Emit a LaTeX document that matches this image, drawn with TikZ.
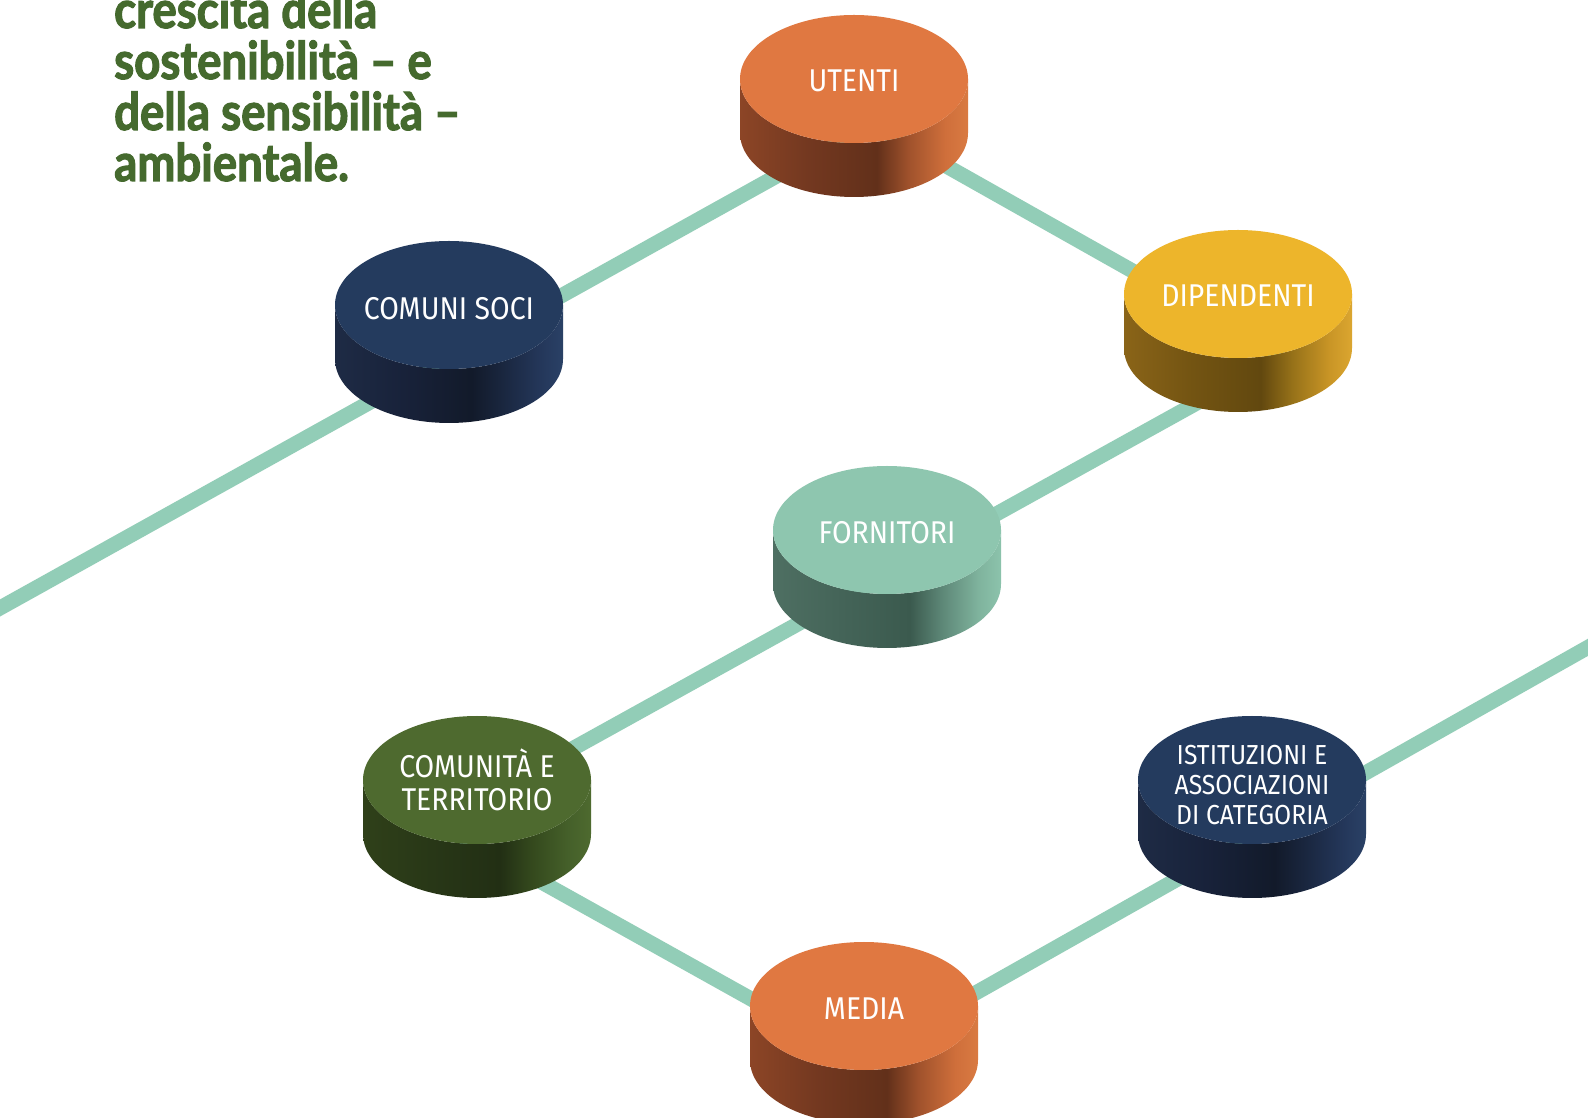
\documentclass[tikz,border=0pt]{standalone}
\usepackage{fontspec}
\newfontfamily\labfont{Fira Sans}[FakeStretch=0.9]
\newfontfamily\titlefont{Lato}[FakeStretch=0.875,FakeBold=2.2]
\definecolor{linec}{HTML}{92CDB7}
\definecolor{titlec}{HTML}{456A2E}
% tops
\definecolor{orangetop}{HTML}{E07841}
\definecolor{navytop}{HTML}{243B5E}
\definecolor{yellowtop}{HTML}{EDB52B}
\definecolor{minttop}{HTML}{8EC6AF}
\definecolor{greentop}{HTML}{4E6A2F}
% sides
\definecolor{or0}{HTML}{8C4526}\definecolor{or1}{HTML}{733820}\definecolor{or2}{HTML}{62301A}
\definecolor{or3}{HTML}{A0522C}\definecolor{or4}{HTML}{CF6F3B}\definecolor{or5}{HTML}{D97A42}
\definecolor{nv0}{HTML}{1E2B45}\definecolor{nv1}{HTML}{18223A}\definecolor{nv2}{HTML}{121A2A}
\definecolor{nv3}{HTML}{1A2740}\definecolor{nv4}{HTML}{24375A}\definecolor{nv5}{HTML}{2A4166}
\definecolor{ye0}{HTML}{8A6418}\definecolor{ye1}{HTML}{735412}\definecolor{ye2}{HTML}{62480F}
\definecolor{ye3}{HTML}{977219}\definecolor{ye4}{HTML}{C99526}\definecolor{ye5}{HTML}{DBA630}
\definecolor{mi0}{HTML}{4E6F62}\definecolor{mi1}{HTML}{446458}\definecolor{mi2}{HTML}{3B5A4E}
\definecolor{mi3}{HTML}{5D8777}\definecolor{mi4}{HTML}{7FB39D}\definecolor{mi5}{HTML}{8CC3AC}
\definecolor{gr0}{HTML}{2F4019}\definecolor{gr1}{HTML}{283717}\definecolor{gr2}{HTML}{222F14}
\definecolor{gr3}{HTML}{34491D}\definecolor{gr4}{HTML}{45602A}\definecolor{gr5}{HTML}{4E6A2F}
\pgfdeclarehorizontalshading{sideorange}{100bp}{color(0bp)=(or0); color(25bp)=(or0); color(40bp)=(or1); color(55bp)=(or2); color(62bp)=(or3); color(70bp)=(or4); color(75bp)=(or5); color(100bp)=(or5)}
\pgfdeclarehorizontalshading{sidenavy}{100bp}{color(0bp)=(nv0); color(25bp)=(nv0); color(40bp)=(nv1); color(55bp)=(nv2); color(62bp)=(nv3); color(70bp)=(nv4); color(75bp)=(nv5); color(100bp)=(nv5)}
\pgfdeclarehorizontalshading{sideyellow}{100bp}{color(0bp)=(ye0); color(25bp)=(ye0); color(40bp)=(ye1); color(55bp)=(ye2); color(62bp)=(ye3); color(70bp)=(ye4); color(75bp)=(ye5); color(100bp)=(ye5)}
\pgfdeclarehorizontalshading{sidemint}{100bp}{color(0bp)=(mi0); color(25bp)=(mi0); color(40bp)=(mi1); color(55bp)=(mi2); color(62bp)=(mi3); color(70bp)=(mi4); color(75bp)=(mi5); color(100bp)=(mi5)}
\pgfdeclarehorizontalshading{sidegreen}{100bp}{color(0bp)=(gr0); color(25bp)=(gr0); color(40bp)=(gr1); color(55bp)=(gr2); color(62bp)=(gr3); color(70bp)=(gr4); color(75bp)=(gr5); color(100bp)=(gr5)}
\newcommand{\drawdisc}[4]{% cx, Yc (top ellipse centre), top colour, side shading
  \shade[shading=#4] (#1-114,#2) -- (#1-114,#2-54)
     arc[start angle=180,end angle=360,x radius=114,y radius=64]
     -- (#1+114,#2)
     arc[start angle=0,end angle=-180,x radius=114,y radius=64] -- cycle;
  \fill[#3] (#1,#2) ellipse [x radius=114,y radius=64];
}
\begin{document}
\begin{tikzpicture}[x=1pt,y=1pt,
  lab/.style={text=white,font=\labfont\fontsize{31.5}{32.5}\selectfont,align=center,inner sep=0pt},
  labsmall/.style={lab,font=\labfont\fontsize{27.5}{30}\selectfont},
  ttl/.style={text=titlec,font=\titlefont\bfseries\fontsize{52}{51}\selectfont,anchor=base west,inner sep=0pt},
  link/.style={draw=linec,line width=15pt,line join=round}]
\useasboundingbox (0,0) rectangle (1588,1117);
\clip (0,0) rectangle (1588,1117);
\fill[white] (0,0) rectangle (1588,1117);
% title
\node[ttl] (t1) at (114,1089) {crescita della};
\node[ttl] (t2) at (114,1038) {sostenibilità – e};
\node[ttl] (t3) at (114,987) {della sensibilità –};
\node[ttl] (t4) at (114,936) {ambientale.};
% junctions of the connector lines (hidden behind the discs)
\coordinate (ein) at (-20,497.9);
\coordinate (j1) at (871,993.4);
\coordinate (j2) at (1282.5,761.5);
\coordinate (j3) at (437,293.2);
\coordinate (j4) at (858.7,58);
\coordinate (eout) at (1610,482.1);
\draw[link] (ein) -- (j1);
\draw[link] (j1) -- (j2);
\draw[link] (j2) -- (j3);
\draw[link] (j3) -- (j4);
\draw[link] (j4) -- (eout);
% discs
\drawdisc{854}{1038}{orangetop}{sideorange}
\drawdisc{449}{812}{navytop}{sidenavy}
\drawdisc{1238}{823}{yellowtop}{sideyellow}
\drawdisc{887}{587}{minttop}{sidemint}
\drawdisc{477}{337}{greentop}{sidegreen}
\drawdisc{1252}{337}{navytop}{sidenavy}
\drawdisc{864}{111}{orangetop}{sideorange}
% labels
\node[lab] (utenti) at (854,1036) {UTENTI};
\node[lab] (comuni) at (449,808) {COMUNI SOCI};
\node[lab] (dipendenti) at (1238,821) {DIPENDENTI};
\node[lab] (fornitori) at (887,584) {FORNITORI};
\node[lab] (comunita) at (477,337) {COMUNITÀ E\\TERRITORIO};
\node[labsmall] (istituzioni) at (1252,332) {ISTITUZIONI E\\ASSOCIAZIONI\\DI CATEGORIA};
\node[lab] (media) at (864,108) {MEDIA};
\end{tikzpicture}
\end{document}
